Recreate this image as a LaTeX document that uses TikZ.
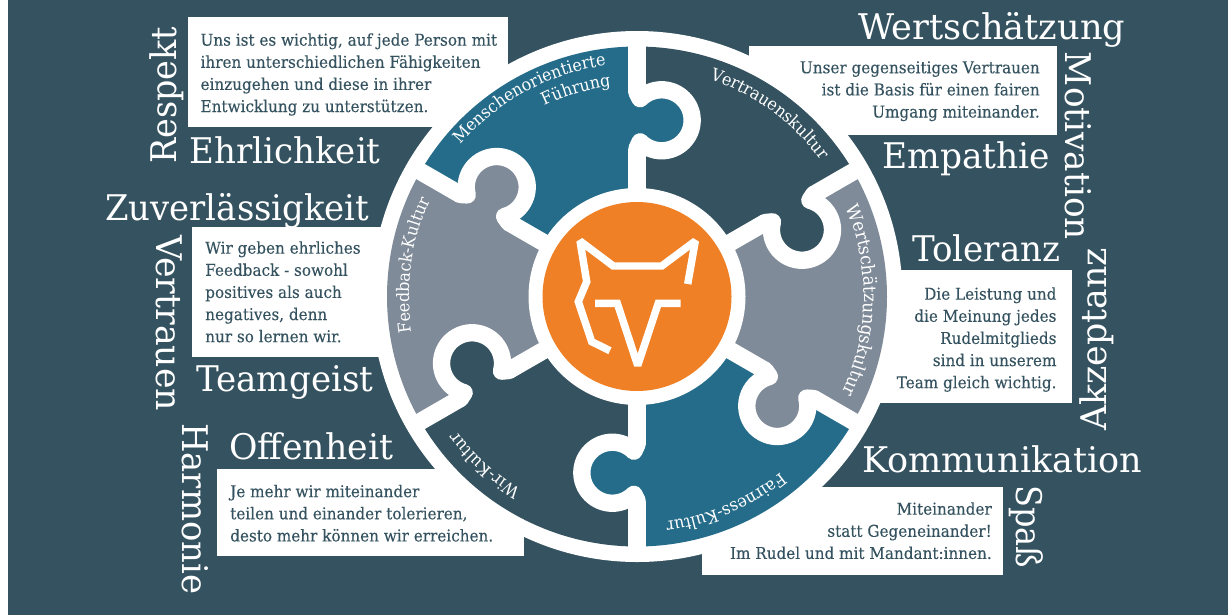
\documentclass[tikz,border=0pt]{standalone}
\usepackage{graphicx}
\usepackage{fontspec}
\setmainfont{DejaVu Serif}[FakeStretch=0.86]
\newfontfamily\bodyfont{DejaVu Serif}[FakeStretch=0.935,FakeBold=0.15]
\newfontfamily\arcfont{DejaVu Serif}[FakeStretch=0.935]
\usetikzlibrary{decorations.text}
\definecolor{wheeldark}{HTML}{34525F}
\definecolor{wheelblue}{HTML}{246C8A}
\definecolor{wheelgrey}{HTML}{7F8B98}
\definecolor{wheelorange}{HTML}{EF8025}
\newsavebox\wbox
\newcommand\fw[2]{\sbox\wbox{#2}\pgfmathsetmacro\wr{#1*0.75/\the\wd\wbox}\scalebox{\wr}[1]{\usebox\wbox}}
\tikzset{
  bigword/.style={text=white,inner sep=0pt,anchor=base west,font=\fontsize{26.5}{30}\selectfont},
  panel/.style={fill=white,draw=none},
  copyl/.style={text=wheeldark,inner sep=0pt,anchor=north west,align=left,font=\bodyfont\fontsize{12.2}{16.6}\selectfont},
  copyr/.style={text=wheeldark,inner sep=0pt,anchor=north east,align=right,font=\bodyfont\fontsize{12.2}{16.6}\selectfont},
  bar/.style={draw=white,line width=13pt,line cap=round,line join=round},
  barstem/.style={draw=white,line width=13pt},
  foxline/.style={draw=white,line width=5.6pt,miter limit=2,line join=miter}
}
\newcommand\curved[5][12.8]{% size, radius, start, end, text
  \path[decorate,decoration={text along path,text align=center,
    text={|\arcfont\fontsize{#1}{15}\selectfont\color{white}|#5}}] (#3:#2) arc[start angle=#3,end angle=#4,radius=#2];}
\begin{document}
\begin{tikzpicture}[x=0.75pt,y=0.75pt]
\useasboundingbox (0,0) rectangle (1228,-615);
\fill[white] (0,0) rectangle (1228,-615);
\fill[wheeldark] (8,0) rectangle (1228,-615);
% panels
\fill[panel] (188,-17) rectangle (508,-127);
\fill[panel] (749,-46) rectangle (1057,-135);
\fill[panel] (192,-227) rectangle (450,-357);
\fill[panel] (800,-270) rectangle (1072,-403);
\fill[panel] (217,-469) rectangle (524,-556);
\fill[panel] (702,-487) rectangle (1003,-575);
% wheel
\begin{scope}[shift={(637,-296.5)}]
  \fill[white] (0,0) circle[radius=265.5];
  \foreach \a/\c in {90/wheelblue,30/wheeldark,-30/wheelgrey,-90/wheelblue,-150/wheeldark,150/wheelgrey}{
    \pgfmathsetmacro\b{\a+60}
    \fill[\c] (0,0) -- (\b:250) arc[start angle=\b,end angle=\a,radius=250] -- cycle;
  }
  \foreach \a/\c in {90/wheelblue,30/wheeldark,-30/wheelgrey,-90/wheelblue,-150/wheeldark,150/wheelgrey}{
    \pgfmathsetmacro\r{\a-90}
    \begin{scope}[rotate=\r]
      \fill[\c] (24.7,176.2) circle[radius=31];
      \fill[\c] (-10,150) rectangle (12,202);
    \end{scope}
  }
  \foreach \a in {90,30,-30,-90,-150,150}{
    \pgfmathsetmacro\r{\a-90}
    \begin{scope}[rotate=\r]
      \draw[barstem] (0,255) -- (0,204);
      \draw[barstem] (0,148) -- (0,100);
      \draw[bar] (0,204) -- (3.1,197.8) arc[start angle=135,end angle=-135,radius=30.5] -- (0,148);
    \end{scope}
  }
  \fill[white] (0,0) circle[radius=108.5];
  \fill[wheelorange] (0,0) circle[radius=94.5];
  \curved{233}{140.5}{96.5}{Menschenorientierte}
  \curved{212}{116}{97}{Führung}
  \curved{229}{72}{36}{Vertrauenskultur}
  \curved[13.6]{227}{23}{-25}{Wertschätzungskultur}
  \curved{227}{-50.5}{-83}{Fairness-Kultur}
  \curved{225}{-120.7}{-143.4}{Wir-Kultur}
  \curved{228}{189.3}{154.8}{Feedback-Kultur}
\end{scope}
% fox
\draw[foxline] (687.7,-284) -- (695.3,-241) -- (661.7,-266) -- (613.3,-266) -- (580,-241) -- (586.7,-281.7) -- (578.3,-301.7) -- (591.7,-341.7) -- (610,-350.7);
\draw[foxline] (595,-303.3) -- (617.3,-303.3) -- (637.7,-365.5) -- (658.3,-303.3) -- (680.7,-303.3);
% big words
\node[bigword] (w1) at (858,-39.5) {\fw{267}{Wertschätzung}};
\node[bigword,rotate=-90] (w2) at (1065.7,-51.7) {\fw{188}{Motivation}};
\node[bigword] (w3) at (882,-168) {\fw{168}{Empathie}};
\node[bigword] (w4) at (912,-261) {\fw{148}{Toleranz}};
\node[bigword,rotate=90] (w5) at (1106.7,-431) {\fw{183}{Akzeptanz}};
\node[bigword] (w6) at (862,-472) {\fw{280}{Kommunikation}};
\node[bigword,rotate=-90] (w7) at (1016,-485) {\fw{83}{Spaß}};
\node[bigword,rotate=-90] (w8) at (182,-423) {\fw{171}{Harmonie}};
\node[bigword] (w9) at (229,-459) {\fw{164}{Offenheit}};
\node[bigword] (w10) at (196,-391) {\fw{177}{Teamgeist}};
\node[bigword,rotate=-90] (w11) at (156,-235) {\fw{176}{Vertrauen}};
\node[bigword] (w12) at (105,-220) {\fw{264}{Zuverlässigkeit}};
\node[bigword] (w13) at (189.3,-163) {\fw{191}{Ehrlichkeit}};
\node[bigword,rotate=90] (w14) at (176,-164) {\fw{137}{Respekt}};
% copy
\node[copyl] (t1) at (200.3,-33) {Uns ist es wichtig, auf jede Person mit\\ihren unterschiedlichen Fähigkeiten\\einzugehen und diese in ihrer\\Entwicklung zu unterstützen.};
\node[copyr] (t2) at (1040,-61) {Unser gegenseitiges Vertrauen\\ist die Basis für einen fairen\\Umgang miteinander.};
\node[copyl] (t3) at (205,-241) {Wir geben ehrliches\\Feedback - sowohl\\positives als auch\\negatives, denn\\nur so lernen wir.};
\node[copyr] (t4) at (1056.7,-287) {Die Leistung und\\die Meinung jedes\\Rudelmitglieds\\sind in unserem\\Team gleich wichtig.};
\node[copyl] (t5) at (230,-484.5) {Je mehr wir miteinander\\teilen und einander tolerieren,\\desto mehr können wir erreichen.};
\node[copyr] (t6) at (992,-502) {Miteinander\\statt Gegeneinander!\\Im Rudel und mit Mandant:innen.};
\end{tikzpicture}
\end{document}
